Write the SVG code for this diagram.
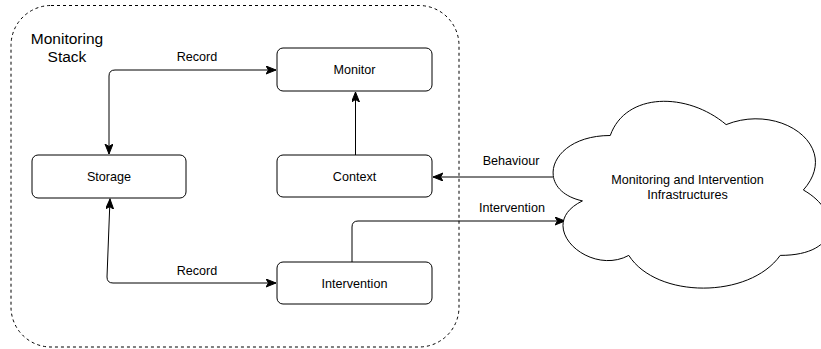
<svg xmlns="http://www.w3.org/2000/svg" width="821" height="349" viewBox="0 0 821 349">
<style>
.box{fill:#fff;stroke:#000;stroke-width:1}
.t{font-family:"Liberation Sans",Arial,sans-serif;font-size:12.6px;fill:#000;text-anchor:middle}
.big{font-size:15.5px}
.e{fill:none;stroke:#000;stroke-width:1}
</style>
<defs>
<marker id="ah" markerUnits="userSpaceOnUse" markerWidth="12" markerHeight="10" refX="10" refY="4" orient="auto-start-reverse">
<path d="M0,0 L10,4 L0,8 L2.5,4 Z" fill="#000" stroke="#000" stroke-width="1"/>
</marker>
</defs>
<rect x="0" y="0" width="821" height="349" fill="#fff"/>
<g id="container">
<rect x="11" y="5.5" width="448" height="341.5" rx="40" ry="40" fill="none" stroke="#000" stroke-width="1" stroke-dasharray="3,3"/>
<text class="t big" x="67" y="44">Monitoring</text>
<text class="t big" x="67" y="62">Stack</text>
</g>
<g id="connectors">
<path class="e" d="M109,154 L109,76 Q109,70 115,70 L276,70" marker-start="url(#ah)" marker-end="url(#ah)"/>
<text class="t" x="197" y="61">Record</text>
<path class="e" d="M110,199 L107,277 Q107,283 113,283 L276,283" marker-start="url(#ah)" marker-end="url(#ah)"/>
<text class="t" x="197" y="275">Record</text>
<path class="e" d="M355.5,155 L355.5,92" marker-end="url(#ah)"/>
<path class="e" d="M553,177 L433,177" marker-end="url(#ah)"/>
<text class="t" x="511" y="165">Behaviour</text>
<path class="e" d="M352,262 L352,227 Q352,221 358,221 L565,221" marker-end="url(#ah)"/>
<text class="t" x="512" y="212">Intervention</text>
</g>
<g id="monitor">
<rect class="box" x="277" y="48" width="155" height="43" rx="6"/>
<text class="t" x="354.5" y="74">Monitor</text>
</g>
<g id="context">
<rect class="box" x="277" y="155" width="155" height="42" rx="6"/>
<text class="t" x="354.5" y="180.5">Context</text>
</g>
<g id="storage">
<rect class="box" x="32" y="155" width="154" height="43" rx="6"/>
<text class="t" x="109" y="181">Storage</text>
</g>
<g id="intervention">
<rect class="box" x="277" y="262" width="155" height="42" rx="6"/>
<text class="t" x="354.5" y="287.5">Intervention</text>
</g>
<g id="cloud">
<path fill="#fff" stroke="#000" stroke-width="1" d="M610.25,135.5 C548.45,135.5 533,190 582.44,200.9 C533,224.88 588.62,277.2 628.79,255.4 C656.6,299 749.3,299 780.2,255.4 C842,255.4 842,211.8 803.38,190 C842,146.4 780.2,102.8 726.13,124.6 C687.5,91.9 625.7,91.9 610.25,135.5 Z"/>
<text class="t" x="687.5" y="184">Monitoring and Intervention</text>
<text class="t" x="687.5" y="199">Infrastructures</text>
</g>
</svg>
